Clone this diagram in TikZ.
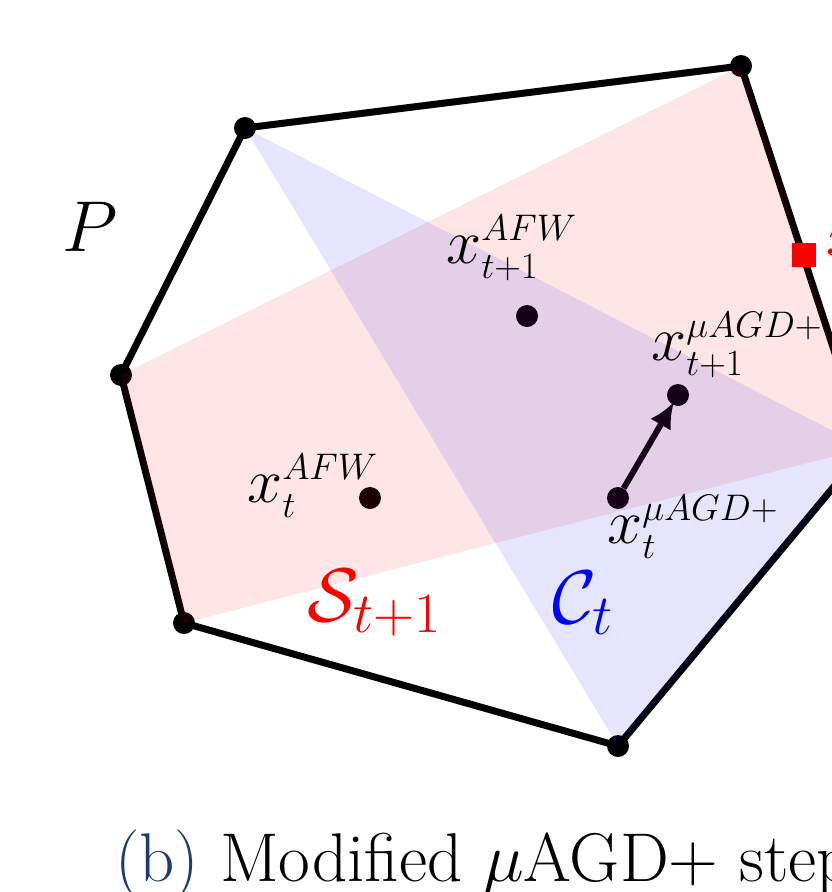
\RequirePackage{fix-cm}
\documentclass[tikz,border=0pt]{standalone}
\usetikzlibrary{arrows.meta}
\DeclareMathSizes{63}{63}{37}{29}
\DeclareMathSizes{72}{72}{50}{36}
\DeclareMathSizes{76}{76}{57}{42}
\definecolor{capblue}{RGB}{31,58,112}
\begin{document}
\begin{tikzpicture}[x=1pt,y=-1pt,
  edge/.style={line width=7pt, line join=round},
  vdot/.style={circle, fill=black, inner sep=0pt, minimum size=22pt},
  lbl/.style={anchor=base west, inner sep=0pt, font=\fontsize{63}{75}\selectfont},
  biglbl/.style={anchor=base west, inner sep=0pt, font=\fontsize{72}{86}\selectfont},
  reglbl/.style={anchor=base west, inner sep=0pt, font=\fontsize{76}{90}\selectfont}]
\useasboundingbox (0,0) rectangle (832,892);
\clip (0,0) rectangle (832,892);
\coordinate (A) at (245,128);
\coordinate (B) at (741,66);
\coordinate (R) at (866,448);
\coordinate (C) at (618,746);
\coordinate (D) at (184,623);
\coordinate (E) at (121,375);
\draw[edge] (A) -- (B) -- (R) -- (C) -- (D) -- (E) -- cycle;
\foreach \v in {A,B,R,C,D,E} \node[vdot] (d\v) at (\v) {};
% points
\node[vdot] (pAFWt) at (370,498) {};
\node[vdot] (pAFWn) at (527,316) {};
\node[vdot] (pMt) at (618,498) {};
\node[vdot] (pMn) at (678,395) {};
\draw[line width=6pt, shorten >=-3pt, -{Latex[length=26pt,width=24pt]}] (pMt) -- (pMn);
% regions
\fill[red, opacity=0.1] (E) -- (B) -- (R) -- (D) -- cycle;
\fill[blue, opacity=0.1] (A) -- (R) -- (C) -- cycle;
% red square
\node[fill=red, minimum size=24pt, inner sep=0pt] (sq) at (804,255) {};
\node[lbl, red] (sqlbl) at (826,255) {$\tilde{x}$};
% labels
\node[biglbl] (lP) at (62,251) {$P$};
\node[lbl] (l1) at (446,263) {$x_{t+1}^{AFW}$};
\node[lbl] (l2) at (247,502) {$x_{t}^{AFW}$};
\node[lbl] (l3) at (651,360) {$x_{t+1}^{\mu AGD+}$};
\node[lbl] (l4) at (607,543) {$x_{t}^{\mu AGD+}$};
\node[reglbl, red] (lS) at (307,621) {$\mathcal{S}_{t+1}$};
\node[reglbl, blue] (lC) at (552,623) {$\mathcal{C}_{t}$};
\node[anchor=base west, inner sep=0pt, font=\fontsize{69}{82}\selectfont] (cap) at (115,881) {\textcolor{capblue}{(b)} Modified $\mu$AGD+ step};
\end{tikzpicture}
\end{document}
